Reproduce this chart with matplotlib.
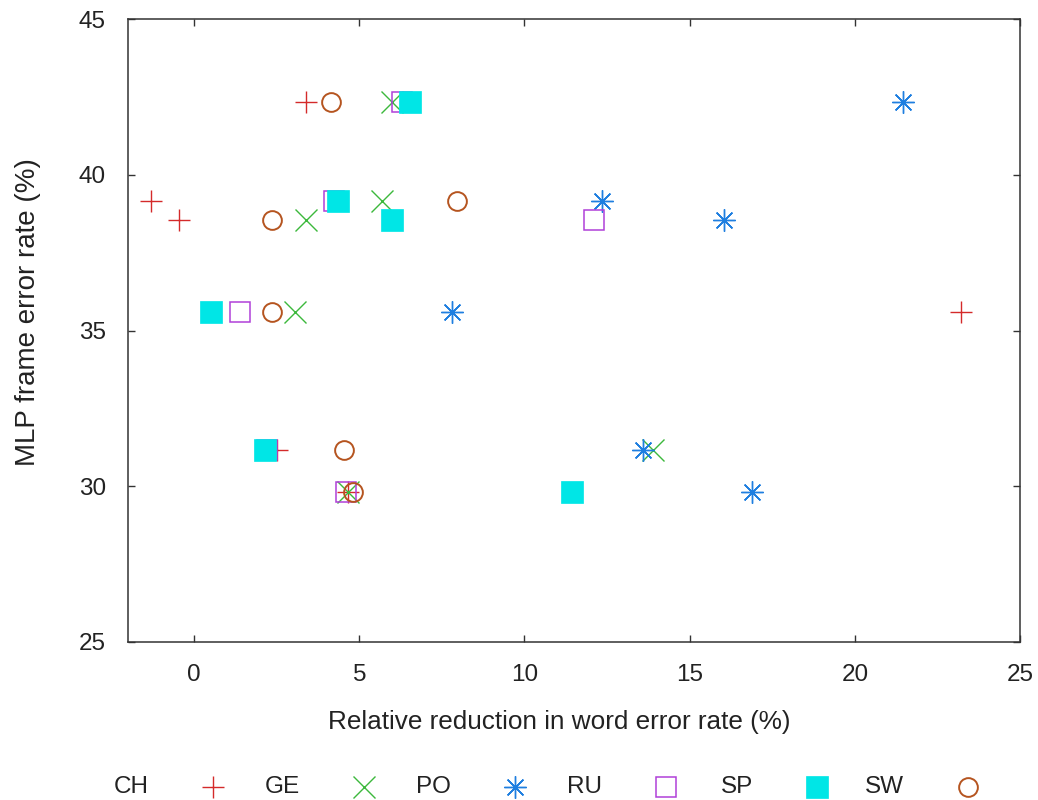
import matplotlib
matplotlib.use("Agg")
import matplotlib.pyplot as plt

# MLP frame error rate (%) per row, and relative WER reduction (%) per language
fer = [42.35, 39.15, 38.55, 35.6, 31.15, 29.8]
ch = [3.4, -1.3, -0.45, 23.2, 2.5, 4.65]
ge = [6.0, 5.7, 3.4, 3.05, 13.9, 4.65]
po = [21.45, 12.35, 16.05, 7.8, 13.6, 16.9]
ru = [6.3, 4.25, 12.1, 1.4, 2.2, 4.6]
sp = [6.55, 4.35, 6.0, 0.5, 2.15, 11.45]
sw = [4.15, 7.95, 2.35, 2.35, 4.55, 4.8]

langs = ["CH", "GE", "PO", "RU", "SP", "SW"]
series = [ch, ge, po, ru, sp, sw]
xticks = [0, 5, 10, 15, 20, 25]
yticks = [25, 30, 35, 40, 45]

ASTER = (8, 2, 0)
styles = [
    dict(marker="+", color="#d42a2a", ms=16.5, mew=1.0, mfc="none"),
    dict(marker="x", color="#3cb83c", ms=16.0, mew=1.0, mfc="none"),
    dict(marker=ASTER, color="#1f7fe0", ms=16.0, mew=1.0, mfc="none"),
    dict(marker="s", color="#b040d8", ms=15.0, mew=1.1, mfc="none"),
    dict(marker="s", color="#00e6e6", ms=15.5, mew=0.5, mfc="#00e6e6"),
    dict(marker="o", color="#b5541f", ms=13.5, mew=1.4, mfc="none"),
]

plt.rcParams["font.family"] = ["Liberation Sans", "DejaVu Sans"]
TXT = "#222222"

W, H = 1038, 800
fig = plt.figure(figsize=(W / 100, H / 100), dpi=100)
ax = fig.add_axes([128 / W, 1 - 642 / H, (1020 - 128) / W, (642 - 19) / H])

for xs, st in zip(series, styles):
    ax.plot(xs, fer, ls="none", marker=st["marker"], ms=st["ms"], mew=st["mew"],
            mec=st["color"], mfc=st["mfc"])
    if st["marker"] == ASTER:
        ax.plot(xs, fer, ls="none", marker="o", ms=3.5, mew=0, mfc=st["color"])

ax.set_xlim(-2, 25)
ax.set_ylim(25, 45)
ax.set_xticks(xticks)
ax.set_yticks(yticks)
ax.tick_params(direction="in", length=5, width=1.0, color="#333333",
               top=True, right=True, labelsize=17.5, labelcolor=TXT)
ax.tick_params(axis="x", pad=15.5)
ax.tick_params(axis="y", pad=16)
for s in ax.spines.values():
    s.set_linewidth(1.1)
    s.set_color("#333333")
ax.set_xlabel("Relative reduction in word error rate (%)", fontsize=18.8, color=TXT)
ax.set_ylabel("MLP frame error rate (%)", fontsize=20, color=TXT)
ax.xaxis.set_label_coords((559 - 128) / 892, -(722 - 642) / 623, transform=ax.transAxes)
ax.xaxis.label.set_va("center")
ax.yaxis.set_label_coords(-(128 - 28) / 892, (642 - 312) / 623, transform=ax.transAxes)
ax.yaxis.label.set_va("center")

# key along the bottom: label text then its sample, gnuplot style
kax = fig.add_axes([0, 0, 1, 1])
kax.set_xlim(0, W)
kax.set_ylim(H, 0)
kax.axis("off")
key_right0, key_step, key_gap, key_y = 149, 151, 64, 787
for k, (name, st) in enumerate(zip(langs, styles)):
    xr = key_right0 + k * key_step
    kax.text(xr, key_y, name, ha="right", va="center", fontsize=17.5, color=TXT)
    kax.plot([xr + key_gap], [key_y], ls="none", marker=st["marker"], ms=st["ms"],
             mew=st["mew"], mec=st["color"], mfc=st["mfc"])
    if st["marker"] == ASTER:
        kax.plot([xr + key_gap], [key_y], ls="none", marker="o", ms=3.5, mew=0,
                 mfc=st["color"])

fig.savefig("out.png", dpi=100)
plt.close(fig)
